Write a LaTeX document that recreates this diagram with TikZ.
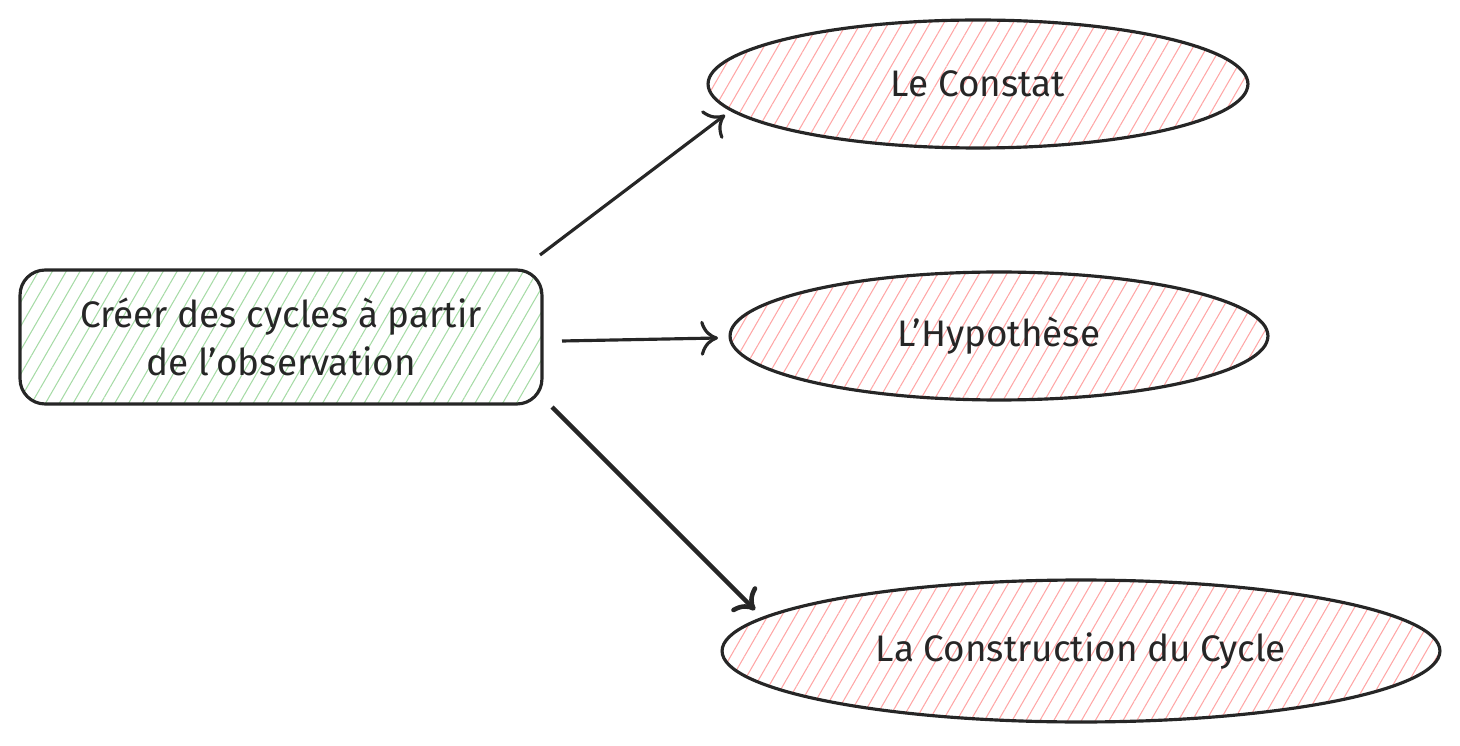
\documentclass[tikz,border=0pt]{standalone}
\usepackage{fontspec}
\setmainfont{Fira Sans}
\usetikzlibrary{shapes.geometric,patterns.meta,arrows.meta}

\begin{document}
\begin{tikzpicture}[x=0.02cm,y=-0.02cm,
        every node/.append style = {font=\fontsize{21pt}{27pt}\selectfont, text=black!85},
        goal/.style = {draw=black!85, line width=1.8pt, rounded corners=0.5cm,
            minimum width=10.44cm, minimum height=2.68cm, align=center,
            pattern={Lines[angle=60,distance=0.24cm,line width=0.6pt]}, pattern color=green!60!black!35},
        phase/.style = {ellipse, draw=black!85, line width=1.8pt,
            pattern={Lines[angle=60,distance=0.24cm,line width=0.6pt]}, pattern color=red!35},
        link/.style = {draw=black!85, line width=1.8pt, -{To[length=0.35cm,width=0.7cm]}}]
    \useasboundingbox (0,0) rectangle (1460,746);
    \node[goal] (cycles) at (281,337) {Créer des cycles à partir\\de l'observation};
    \node[phase, minimum width=10.8cm, minimum height=2.56cm] (constat) at (978,84) {Le Constat};
    \node[phase, minimum width=10.76cm, minimum height=2.56cm] (hypo) at (999,336) {L'Hypothèse};
    \node[phase, minimum width=14.36cm, minimum height=2.84cm] (constr) at (1081,651) {La Construction du Cycle};
    % connector ends
    \coordinate (s1) at (540,255); \coordinate (t1) at (725,115);
    \coordinate (s2) at (562,341); \coordinate (t2) at (718,338);
    \coordinate (s3) at (552,407); \coordinate (t3) at (755,610);
    \draw[link] (s1) -- (t1);
    \draw[link] (s2) -- (t2);
    \draw[link, line width=2.6pt] (s3) -- (t3);
\end{tikzpicture}
\end{document}
